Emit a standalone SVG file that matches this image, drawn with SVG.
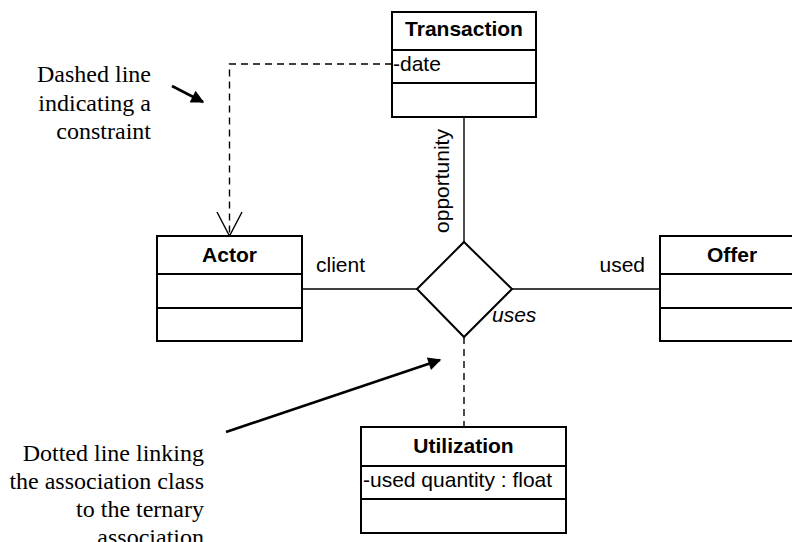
<svg xmlns="http://www.w3.org/2000/svg" width="792" height="542" viewBox="0 0 792 542">
<style>
.box{fill:#fff;stroke:#000;stroke-width:2}
.div{stroke:#000;stroke-width:2}
.title{font-family:"Liberation Sans",Arial,sans-serif;font-size:21px;font-weight:bold;text-anchor:middle}
.attr{font-family:"Liberation Sans",Arial,sans-serif;font-size:21px}
.lbl{font-family:"Liberation Sans",Arial,sans-serif;font-size:21px}
.note{font-family:"Liberation Serif","Times New Roman",serif;font-size:24px;text-anchor:end}
.line{stroke:#000;stroke-width:1.4;fill:none}
.dash{stroke:#000;stroke-width:1.4;fill:none;stroke-dasharray:7,5}
.pointer{stroke:#000;stroke-width:2.6;fill:none}
</style>
<defs>
<marker id="filled" viewBox="0 0 10 10" refX="9" refY="5" markerWidth="6" markerHeight="5" markerUnits="strokeWidth" orient="auto">
<path d="M0,0 L10,5 L0,10 Z" fill="#000"/>
</marker>
</defs>
<g id="connectors">
<line class="line" x1="302" y1="289" x2="417" y2="289"/>
<line class="line" x1="512" y1="289" x2="660" y2="289"/>
<line class="line" x1="464" y1="117" x2="464" y2="242"/>
<line class="dash" x1="464" y1="337" x2="464" y2="427"/>
<polyline class="dash" points="392,64 229.5,64 229.5,235"/>
<polyline class="line" points="217,212 229.5,236 242,212"/>
<text class="lbl" x="316" y="272">client</text>
<text class="lbl" x="645" y="272" text-anchor="end">used</text>
<text class="lbl" transform="translate(449,181) rotate(-90)" text-anchor="middle">opportunity</text>
</g>
<g id="association">
<polygon points="464,242 512,289 464,337 417,289" fill="#fff" stroke="#000" stroke-width="2"/>
<text class="lbl" x="492" y="322" font-style="italic">uses</text>
</g>
<g id="transaction">
<rect class="box" x="392" y="12" width="144" height="105"/>
<line class="div" x1="392" y1="50" x2="536" y2="50"/>
<line class="div" x1="392" y1="83" x2="536" y2="83"/>
<text class="title" x="464" y="36">Transaction</text>
<text class="attr" x="393" y="71">-date</text>
</g>
<g id="actor">
<rect class="box" x="157" y="236" width="145" height="105"/>
<line class="div" x1="157" y1="274" x2="302" y2="274"/>
<line class="div" x1="157" y1="308" x2="302" y2="308"/>
<text class="title" x="229.5" y="262">Actor</text>
</g>
<g id="offer">
<rect class="box" x="660" y="236" width="145" height="105"/>
<line class="div" x1="660" y1="274" x2="805" y2="274"/>
<line class="div" x1="660" y1="308" x2="805" y2="308"/>
<text class="title" x="732" y="262">Offer</text>
</g>
<g id="utilization">
<rect class="box" x="361" y="427" width="205" height="106"/>
<line class="div" x1="361" y1="466" x2="566" y2="466"/>
<line class="div" x1="361" y1="499" x2="566" y2="499"/>
<text class="title" x="463.5" y="453">Utilization</text>
<text class="attr" x="363" y="487">-used quantity : float</text>
</g>
<g id="note-constraint">
<text class="note" x="151" y="82">Dashed line</text>
<text class="note" x="151" y="111">indicating a</text>
<text class="note" x="151" y="139">constraint</text>
<line class="pointer" x1="172" y1="86" x2="203" y2="102" marker-end="url(#filled)"/>
</g>
<g id="note-association">
<text class="note" x="204" y="461">Dotted line linking</text>
<text class="note" x="204" y="489">the association class</text>
<text class="note" x="204" y="517">to the ternary</text>
<text class="note" x="204" y="545">association</text>
<line class="pointer" x1="226" y1="432" x2="440" y2="360" marker-end="url(#filled)"/>
</g>
</svg>
